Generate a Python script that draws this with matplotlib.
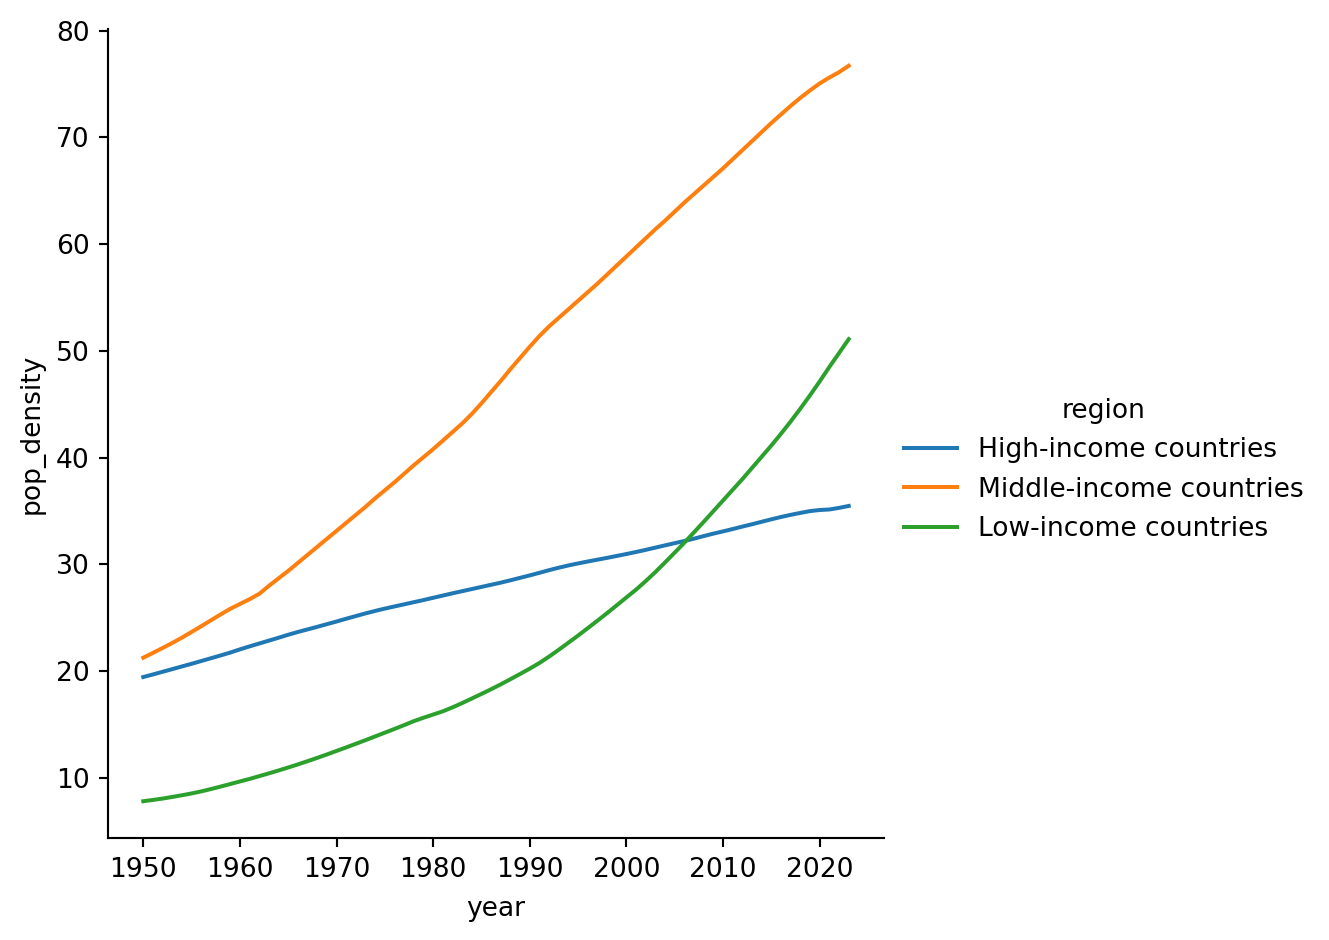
import numpy as np
import pandas as pd
import matplotlib
matplotlib.use("Agg")
import matplotlib.pyplot as plt
import seaborn as sns

# --- data (pop density per year) ---
years = list(range(1950, 2024))

high_income = [
    19.46, 19.70, 19.95, 20.20, 20.45, 20.70, 20.96, 21.22, 21.48, 21.75,
    22.05, 22.33, 22.60, 22.87, 23.14, 23.42, 23.68, 23.92, 24.16, 24.41,
    24.66, 24.92, 25.17, 25.42, 25.65, 25.87, 26.07, 26.27, 26.47, 26.67,
    26.88, 27.09, 27.30, 27.50, 27.70, 27.90, 28.10, 28.30, 28.52, 28.75,
    28.98, 29.22, 29.47, 29.70, 29.91, 30.10, 30.28, 30.45, 30.62, 30.80,
    30.98, 31.17, 31.37, 31.58, 31.79, 32.00, 32.20, 32.42, 32.66, 32.89,
    33.10, 33.32, 33.55, 33.77, 34.00, 34.23, 34.45, 34.65, 34.83, 35.00,
    35.10, 35.15, 35.30, 35.48,
]

middle_income = [
    21.27, 21.72, 22.18, 22.65, 23.15, 23.68, 24.22, 24.77, 25.32, 25.85,
    26.30, 26.75, 27.25, 28.00, 28.70, 29.40, 30.15, 30.90, 31.65, 32.40,
    33.15, 33.90, 34.65, 35.40, 36.20, 36.95, 37.70, 38.50, 39.30, 40.05,
    40.80, 41.60, 42.40, 43.20, 44.10, 45.10, 46.15, 47.20, 48.30, 49.35,
    50.40, 51.40, 52.30, 53.10, 53.90, 54.70, 55.50, 56.30, 57.15, 58.00,
    58.85, 59.70, 60.55, 61.40, 62.20, 63.05, 63.90, 64.70, 65.50, 66.30,
    67.10, 67.95, 68.80, 69.65, 70.50, 71.35, 72.15, 72.95, 73.70, 74.40,
    75.05, 75.60, 76.10, 76.70,
]

low_income = [
    7.83, 7.95, 8.08, 8.23, 8.39, 8.56, 8.75, 8.97, 9.20, 9.44,
    9.68, 9.92, 10.18, 10.44, 10.71, 10.99, 11.28, 11.58, 11.89, 12.21,
    12.54, 12.87, 13.21, 13.55, 13.90, 14.25, 14.60, 14.96, 15.33, 15.65,
    15.95, 16.25, 16.62, 17.02, 17.45, 17.88, 18.32, 18.78, 19.26, 19.75,
    20.25, 20.78, 21.38, 22.02, 22.68, 23.35, 24.04, 24.74, 25.45, 26.18,
    26.92, 27.65, 28.45, 29.30, 30.20, 31.12, 32.05, 33.02, 34.00, 35.00,
    36.00, 37.00, 38.00, 39.05, 40.10, 41.15, 42.25, 43.40, 44.60, 45.85,
    47.15, 48.50, 49.80, 51.10,
]

regions = ["High-income countries", "Middle-income countries", "Low-income countries"]

# long format, as seaborn likes it
df = pd.concat([
    pd.DataFrame({"year": years, "pop_density": vals, "region": name})
    for name, vals in zip(regions, [high_income, middle_income, low_income])
], ignore_index=True)

DPI = 191
W, H = 1329, 940
fig = plt.figure(figsize=(W / DPI, H / DPI), dpi=DPI)
ax = fig.add_axes([108 / W, 1 - 838 / H, (884 - 108) / W, (838 - 29) / H])

sns.lineplot(data=df, x="year", y="pop_density", hue="region",
             hue_order=regions, palette="tab10", ax=ax, legend=True)
sns.despine(ax=ax)

ax.set_xticks([1950, 1960, 1970, 1980, 1990, 2000, 2010, 2020])
ax.xaxis.labelpad = 5

# legend outside on the right, no frame (like relplot)
handles, labels = ax.get_legend_handles_labels()
ax.get_legend().remove()
fig.legend(handles, labels, title="region", frameon=False,
           loc="center left", bbox_to_anchor=(880 / W, 1 - 470 / H))

fig.savefig("out.png", dpi=DPI)
plt.close(fig)
